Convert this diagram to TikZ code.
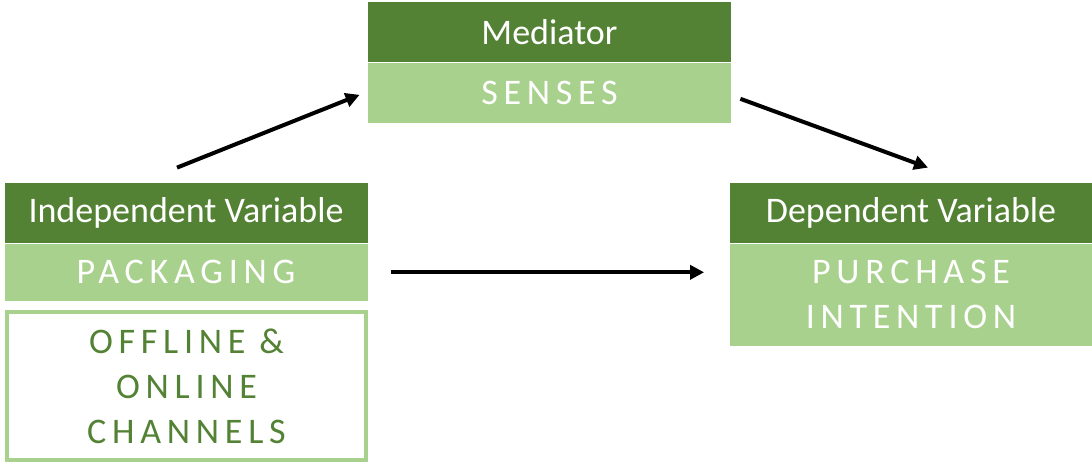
\documentclass[tikz,border=0pt]{standalone}
\usepackage{fontspec}
\setmainfont{Carlito}
\usepackage{tikz}
\usetikzlibrary{positioning,arrows.meta,calc}
\definecolor{darkgreen}{RGB}{84,130,53}
\definecolor{lightgreen}{RGB}{169,209,142}
\newfontfamily\spacedfont[LetterSpace=16]{Carlito}
\tikzset{
  headbox/.style={fill=darkgreen, text=white, inner sep=0pt, minimum width=181.5pt,
                  minimum height=30pt, font=\fontsize{18}{22.5}\selectfont, align=center},
  bodybox/.style={fill=lightgreen, text=white, inner sep=0pt, minimum width=181.5pt,
                  font=\fontsize{18}{22.5}\spacedfont, align=center},
  outlinebox/.style={draw=lightgreen, line width=2pt, fill=white, text=darkgreen, inner sep=0pt,
                     minimum width=179.5pt, minimum height=74pt,
                     font=\fontsize{18}{22.5}\spacedfont, align=center},
  arr/.style={-{Triangle[length=7pt,width=7pt]}, line width=2pt, black}
}
\begin{document}
\begin{tikzpicture}[x=0.5pt,y=-0.5pt]
  \useasboundingbox (0,0) rectangle (1092,463);

  % mediator
  \node[headbox] (medhead) at (549.5,32) {Mediator};
  \node[bodybox, minimum height=30pt, below=0pt of medhead] (senses) {SENSES};

  % independent variable
  \node[headbox] (ivhead) at (186,213) {Independent Variable};
  \node[bodybox, minimum height=28.5pt, below=0pt of ivhead] (packaging) {PACKAGING};
  \node[outlinebox] (channels) at (186.5,386) {OFFLINE \&\\ONLINE\\CHANNELS};

  % dependent variable
  \node[headbox] (dvhead) at (911,213) {Dependent Variable};
  \node[bodybox, minimum height=51pt, below=0pt of dvhead] (purchase) {PURCHASE\\INTENTION};

  \draw[arr] ([xshift=-4.5pt,yshift=7.5pt]ivhead.north) -- ([xshift=-4pt,yshift=-1pt]senses.west);
  \draw[arr] ([xshift=4.5pt,yshift=-3pt]senses.east) -- ([xshift=8.5pt,yshift=7.5pt]dvhead.north);
  \draw[arr, shorten <=11.5pt, shorten >=12.5pt] (packaging.east) -- (packaging.east -| purchase.west);
\end{tikzpicture}
\end{document}
